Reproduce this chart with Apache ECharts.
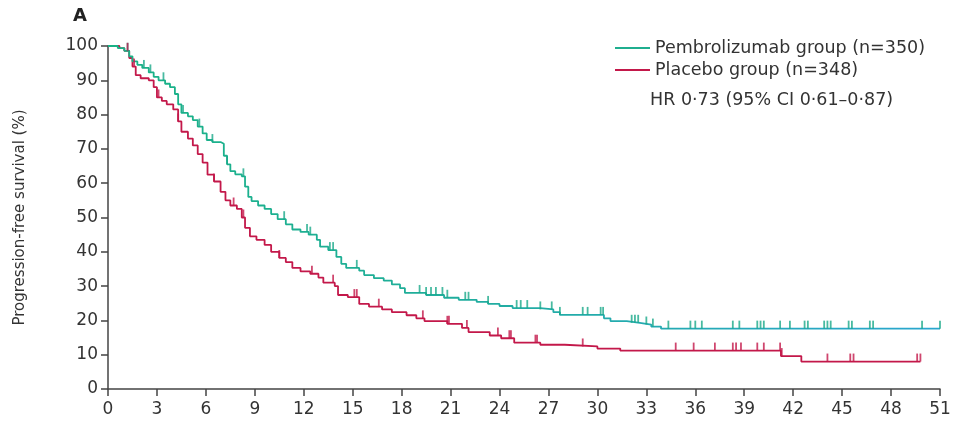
<!DOCTYPE html>
<html>
<head>
<meta charset="utf-8">
<script src="https://cdn.jsdelivr.net/npm/echarts@6/dist/echarts.min.js"></script>
<style>
  html, body { margin: 0; padding: 0; background: #fff; }
  #chart { width: 956px; height: 422px; }
</style>
</head>
<body>
<div id="chart"></div>
<script>
// Kaplan-Meier step points [month, %]
const pembroMonths = [0, 0.6, 1.0, 1.3, 1.5, 1.8, 2.1, 2.5, 2.8, 3.1, 3.5, 3.8, 4.1, 4.3, 4.5, 4.9, 5.2, 5.5, 5.8, 6.05, 6.4, 6.9, 7.1, 7.3, 7.5, 7.8, 8.2, 8.4, 8.6, 8.8, 9.2, 9.6, 10.0, 10.4, 10.9, 11.3, 11.8, 12.3, 12.8, 13.0, 13.5, 14.0, 14.3, 14.6, 15.4, 15.7, 16.3, 16.9, 17.4, 17.9, 18.2, 19.5, 20.6, 21.5, 22.6, 23.3, 24.0, 24.8, 26.5, 27.3, 27.7, 30.4, 30.8, 31.8, 32.6, 33.3, 33.9, 51];
const pembroPfs = [100, 99.4, 98.6, 97, 95.5, 94.5, 93.6, 92.3, 91, 90, 89, 88, 86, 83, 80.5, 79.5, 78.4, 76.5, 74.5, 72.6, 72, 71.5, 68, 65.5, 63.5, 62.6, 62, 59, 56, 54.8, 53.5, 52.5, 51, 49.5, 48, 46.5, 45.8, 45, 43.5, 41.5, 40.5, 38.5, 36.5, 35.3, 34.5, 33.2, 32.3, 31.6, 30.5, 29.4, 28, 27.4, 26.6, 26, 25.4, 24.8, 24.2, 23.6, 23.2, 22.4, 21.6, 20.6, 19.8, 19.3, 18.8, 18.2, 17.6, 17.6];

const placeboMonths = [0, 0.7, 1.0, 1.3, 1.5, 1.7, 2.0, 2.5, 2.8, 3.0, 3.3, 3.6, 4.0, 4.3, 4.5, 4.9, 5.2, 5.5, 5.8, 6.1, 6.5, 6.9, 7.2, 7.5, 7.9, 8.2, 8.4, 8.7, 9.1, 9.6, 10.0, 10.5, 10.9, 11.3, 11.8, 12.4, 12.9, 13.2, 13.9, 14.1, 14.7, 15.4, 16.0, 16.8, 17.4, 18.3, 18.9, 19.4, 20.8, 21.7, 22.1, 23.4, 24.1, 24.9, 26.5, 28.0, 30.0, 31.4, 41.25, 42.5, 49.8];
const placeboPfs = [100, 99.4, 98.6, 96.5, 94, 91.5, 90.6, 90, 88, 85, 84, 83, 81.5, 78, 75, 73, 71, 68.5, 66, 62.5, 60.5, 57.5, 55, 53.5, 52.5, 50, 47, 44.5, 43.5, 42, 40, 38.2, 37, 35.3, 34.3, 33.6, 32.5, 31, 30, 27.4, 26.8, 24.8, 24, 23.2, 22.4, 21.5, 20.6, 19.8, 19.0, 17.8, 16.6, 15.6, 14.8, 13.5, 12.9, 12.4, 11.8, 11.2, 9.6, 8.0, 8.0];

// censored observations (months)
const pembroCensored = [1.2, 2.2, 2.6, 3.4, 4.6, 5.6, 6.4, 7.3, 8.3, 10.8, 12.2, 12.4, 13.6, 13.8, 15.25, 19.1, 19.5, 19.8, 20.1, 20.5, 20.8, 21.9, 22.1, 23.3, 25.05, 25.3, 25.7, 26.5, 27.2, 27.7, 29.1, 29.4, 30.2, 30.35, 32.1, 32.3, 32.5, 33.0, 33.4, 34.35, 35.7, 36.0, 36.4, 38.3, 38.7, 39.8, 40.0, 40.2, 41.2, 41.8, 42.7, 42.9, 43.9, 44.1, 44.3, 45.4, 45.6, 46.7, 46.9, 49.9, 51];
const placeboCensored = [1.2, 1.6, 3.1, 4.3, 6.5, 7.7, 8.3, 10.5, 12.5, 13.8, 15.1, 15.25, 16.6, 19.3, 20.8, 20.9, 22.0, 23.9, 24.6, 24.7, 26.2, 26.3, 29.1, 34.8, 35.9, 37.2, 38.3, 38.5, 38.8, 39.8, 40.2, 41.2, 41.3, 44.1, 45.5, 45.7, 49.6, 49.8];

const xTicks = [0, 3, 6, 9, 12, 15, 18, 21, 24, 27, 30, 33, 36, 39, 42, 45, 48, 51];
const seriesNames = ['Pembrolizumab group (n=350)', 'Placebo group (n=348)'];
const hrText = 'HR 0·73 (95% CI 0·61–0·87)';

const GREEN = '#1fae8f';
const RED = '#c3184a';

function pairs(xs, ys) {
  return xs.map((x, i) => [x, ys[i]]);
}

// value of step curve at time t
function stepAt(xs, ys, t) {
  let v = ys[0];
  for (let i = 0; i < xs.length; i++) {
    if (xs[i] <= t) v = ys[i];
  }
  return v;
}

function censorMarks(times, xs, ys) {
  return times.map(t => [t, stepAt(xs, ys, t)]);
}

const chart = echarts.init(document.getElementById('chart'));

const font = 'DejaVu Sans, sans-serif';

let option = {
  animation: false,
  backgroundColor: '#fff',
  grid: {
    left: 108,
    right: 16,
    top: 46,
    bottom: 33
  },
  legend: {
    data: seriesNames,
    orient: 'vertical',
    left: 610,
    top: 34,
    itemWidth: 35,
    itemHeight: 2,
    itemGap: 4,
    icon: 'rect',
    textStyle: {
      fontFamily: font,
      fontSize: 17.5,
      color: '#333'
    }
  },
  graphic: [
    {
      type: 'text',
      left: 73,
      top: 7,
      style: { text: 'A', font: 'bold 18px ' + font, fill: '#222' }
    },
    {
      type: 'text',
      left: 650,
      top: 91,
      style: { text: hrText, font: '17.5px ' + font, fill: '#333' }
    }
  ],
  xAxis: {
    type: 'value',
    min: 0,
    max: 51,
    interval: 3,
    axisLine: { lineStyle: { color: '#444', width: 1.5 } },
    axisTick: { length: 7, lineStyle: { color: '#444', width: 1.5 } },
    axisLabel: {
      margin: 12,
      fontFamily: font,
      fontSize: 17,
      color: '#333',
      formatter: v => (xTicks.indexOf(v) >= 0 ? String(v) : '')
    },
    splitLine: { show: false }
  },
  yAxis: {
    type: 'value',
    min: 0,
    max: 100,
    interval: 10,
    name: 'Progression-free survival (%)',
    nameLocation: 'middle',
    nameRotate: 90,
    nameGap: 80,
    nameTextStyle: { fontFamily: font, fontSize: 15, color: '#333' },
    axisLine: { show: true, lineStyle: { color: '#444', width: 1.5 } },
    axisTick: { show: true, length: 7, lineStyle: { color: '#444', width: 1.5 } },
    axisLabel: { margin: 10, fontFamily: font, fontSize: 17, color: '#333' },
    splitLine: { show: false }
  },
  series: [
    {
      name: seriesNames[0],
      type: 'line',
      step: 'end',
      showSymbol: false,
      color: GREEN,
      lineStyle: {
        width: 1.8,
        color: new echarts.graphic.LinearGradient(0, 0, 1, 0, [
          { offset: 0, color: '#19b285' },
          { offset: 0.35, color: '#1fae98' },
          { offset: 1, color: '#2aa6cf' }
        ])
      },
      data: pairs(pembroMonths, pembroPfs),
      z: 3
    },
    {
      name: seriesNames[1],
      type: 'line',
      step: 'end',
      showSymbol: false,
      color: RED,
      lineStyle: { width: 1.8, color: RED },
      data: pairs(placeboMonths, placeboPfs),
      z: 2
    },
    {
      type: 'scatter',
      symbol: 'rect',
      symbolSize: [1.8, 8],
      symbolOffset: [0, -4],
      itemStyle: { color: '#1aa98a' },
      data: censorMarks(pembroCensored, pembroMonths, pembroPfs),
      z: 4
    },
    {
      type: 'scatter',
      symbol: 'rect',
      symbolSize: [1.8, 8],
      symbolOffset: [0, -4],
      itemStyle: { color: RED },
      data: censorMarks(placeboCensored, placeboMonths, placeboPfs),
      z: 4
    }
  ]
};

chart.setOption(option);
</script>
</body>
</html>
